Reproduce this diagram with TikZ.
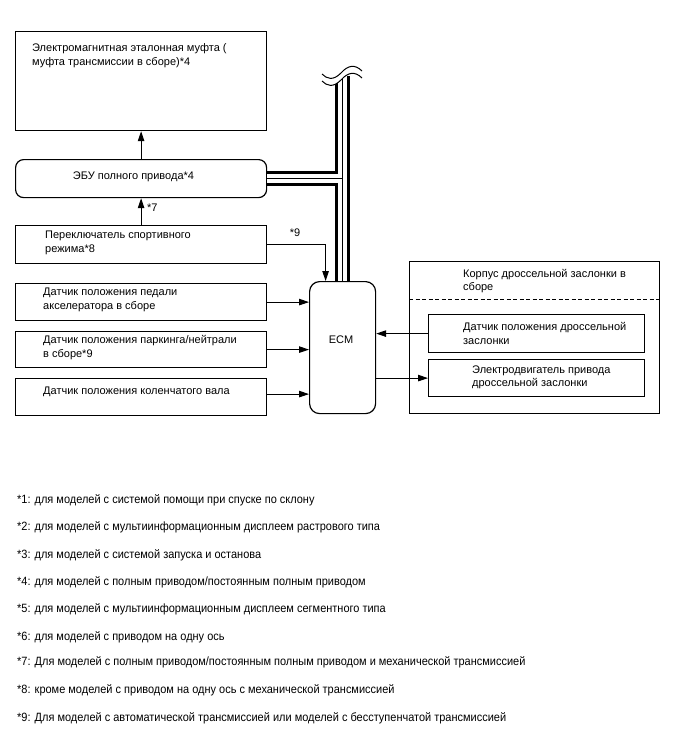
\documentclass[tikz,border=0pt]{standalone}
\usepackage{fontspec}
\setmainfont{Liberation Sans}
\newfontfamily\notefont[FakeStretch=0.915]{Liberation Sans}
\usetikzlibrary{calc, arrows.meta}

\tikzset{
  box/.style={draw, line width=1.2pt, inner sep=0pt, anchor=north west},
  rbox/.style={box, rounded corners=8pt},
  txt/.style={anchor=west, align=left, inner sep=0pt, font=\fontsize{11}{13.5}\selectfont},
  note/.style={anchor=west, inner sep=0pt, font=\notefont\fontsize{12}{14}\selectfont},
  sig/.style={line width=1pt, -{Triangle[length=10pt, width=6.5pt]}},
}

\begin{document}
\begin{tikzpicture}[x=1pt, y=-1pt]
  \useasboundingbox (0,0) rectangle (688,755);

  % блоки слева
  \node[box, minimum width=251pt, minimum height=99pt] (clutch) at (15,31) {};
  \node[rbox, minimum width=251pt, minimum height=38pt] (ecu) at (15,159) {};
  \node[box, minimum width=251pt, minimum height=38pt] (sport) at (15,225) {};
  \node[box, minimum width=251pt, minimum height=37pt] (pedal) at (15,283) {};
  \node[box, minimum width=251pt, minimum height=36pt] (pnp) at (15,331) {};
  \node[box, minimum width=251pt, minimum height=37pt] (crank) at (15,378) {};

  % ECM
  \node[rbox, rounded corners=10pt, minimum width=66pt, minimum height=132pt] (ecm) at (309,281) {};

  % корпус дроссельной заслонки
  \node[box, minimum width=250pt, minimum height=152pt] (body) at (409,261) {};
  \draw[line width=1pt, dash pattern=on 4pt off 2.5pt]
    ([yshift=-38pt]body.north west) -- ([yshift=-38pt]body.north east);
  \node[box, minimum width=216pt, minimum height=38pt] (tps) at (428,314) {};
  \node[box, minimum width=216pt, minimum height=37pt] (motor) at (428,359) {};

  % тексты
  \node[txt] (clutchtxt) at (32,55.5) {Электромагнитная эталонная муфта (\\ муфта трансмиссии в сборе)*4};
  \node[txt, anchor=center] (ecutxt) at (133.5,177) {ЭБУ полного привода*4};
  \node[txt] (sporttxt) at (45,243) {Переключатель спортивного\\режима*8};
  \node[txt] (pedaltxt) at (43,300) {Датчик положения педали\\акселератора в сборе};
  \node[txt] (pnptxt) at (43,347.5) {Датчик положения паркинга/нейтрали\\в сборе*9};
  \node[txt] (cranktxt) at (43,391.5) {Датчик положения коленчатого вала};
  \node[txt, anchor=center] (ecmtxt) at (341,340) {ECM};
  \node[txt] (bodytxt) at (463,281) {Корпус дроссельной заслонки в\\сборе};
  \node[txt] (tpstxt) at (463,333.5) {Датчик положения дроссельной\\заслонки};
  \node[txt] (motortxt) at (472,377.5) {Электродвигатель привода\\дроссельной заслонки};
  \node[txt] (n7) at (147,208) {*7};
  \node[txt, anchor=center] (n9) at (295,233) {*9};

  % сигналы
  \draw[sig] (ecu.north) -- (clutch.south);
  \draw[sig] (sport.north) -- (ecu.south);
  \draw[sig] (sport.east) -| ($(ecm.north)+(-17,0)$);
  \draw[sig] (pedal.east) -- (pedal.east -| ecm.west);
  \draw[sig] (pnp.east) -- (pnp.east -| ecm.west);
  \draw[sig] ($(crank.east)+(0,-3)$) -- ($(crank.east -| ecm.west)+(0,-3)$);
  \draw[sig] (tps.west) -- (tps.west -| ecm.east);
  \draw[sig] (motor.west -| ecm.east) -- (motor.west);

  % шина CAN
  \coordinate (cabletop) at ($(ecm.north)+(0,-205)$);
  \coordinate (tee) at (ecu.east -| ecm.north);
  \foreach \w/\c in {14.5/black, 8.5/white, 1.3/black} {
    \draw[line width=\w pt, \c] (cabletop) -- (ecm.north);
    \draw[line width=\w pt, \c] (ecu.east) -- (tee);
  }

  % обрыв
  \fill[white] (322,81) .. controls (327,86) and (333,88) .. (341,80)
    .. controls (348,72) and (355,71) .. (362,78) -- (362,60) -- (322,60) -- cycle;
  \draw[line width=1pt] (322,74) .. controls (327,79) and (333,81) .. (341,73)
    .. controls (348,65) and (355,64) .. (362,71);
  \draw[line width=1pt] (322,81) .. controls (327,86) and (333,88) .. (341,80)
    .. controls (348,72) and (355,71) .. (362,78);

  % примечания
  \node[note] (f1) at (17,500) {*1: для моделей с системой помощи при спуске по склону};
  \node[note] (f2) at (17,527) {*2: для моделей с мультиинформационным дисплеем растрового типа};
  \node[note] (f3) at (17,555) {*3: для моделей с системой запуска и останова};
  \node[note] (f4) at (17,582) {*4: для моделей с полным приводом/постоянным полным приводом};
  \node[note] (f5) at (17,609) {*5: для моделей с мультиинформационным дисплеем сегментного типа};
  \node[note] (f6) at (17,637) {*6: для моделей с приводом на одну ось};
  \node[note] (f7) at (17,662) {*7: Для моделей с полным приводом/постоянным полным приводом и механической трансмиссией};
  \node[note] (f8) at (17,690) {*8: кроме моделей с приводом на одну ось с механической трансмиссией};
  \node[note] (f9) at (17,718) {*9: Для моделей с автоматической трансмиссией или моделей с бесступенчатой трансмиссией};
\end{tikzpicture}
\end{document}
